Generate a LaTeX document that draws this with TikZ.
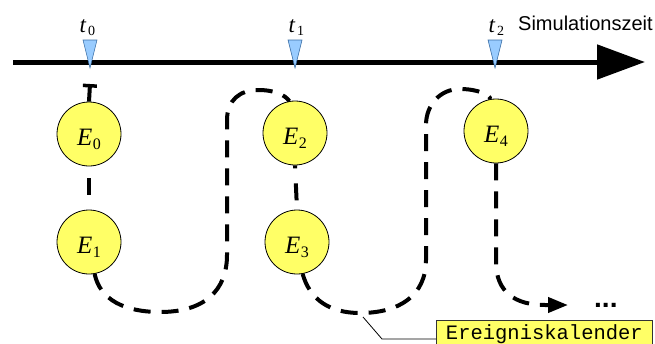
\documentclass[tikz,border=0pt]{standalone}
\usepackage{fontspec}
\newfontfamily\sansf{Liberation Sans}
\newfontfamily\monof{Liberation Mono}
\newfontfamily\seriff{Liberation Serif}
\usetikzlibrary{arrows.meta}
\definecolor{evyellow}{HTML}{FFFF66}
\definecolor{mblue}{HTML}{99CCFF}
\definecolor{mblueline}{HTML}{3A6EA5}
\newcommand\evlab[2]{{\fontsize{25}{25}\selectfont\seriff\itshape #1\kern0.5pt\raisebox{-4pt}{\upshape\fontsize{16}{16}\selectfont #2}}}
\newcommand\tlab[2]{{\fontsize{23}{23}\selectfont\seriff\itshape #1\kern2pt\raisebox{-3pt}{\upshape\fontsize{14}{14}\selectfont #2}}}
\begin{document}
\begin{tikzpicture}[x=1pt,y=-1pt,
  event/.style={circle, draw=black, line width=0.8pt, fill=evyellow,
    minimum size=64pt, inner sep=0pt, text height=22pt, text depth=0pt},
  flow/.style={line width=4pt, dash pattern=on 17pt off 11pt},
  marker/.style={fill=mblue, draw=mblueline, line width=0.6pt},
  tlabel/.style={anchor=base west, inner sep=0pt},
  calbox/.style={draw=black!80, line width=0.8pt, fill=evyellow, anchor=north west,
    minimum width=216pt, minimum height=28pt, inner sep=0pt,
    font=\monof\fontsize{20.5}{20.5}\selectfont, text height=14pt, text depth=4pt},
]
\useasboundingbox (0,0) rectangle (655,343);

% time axis
\coordinate (axs) at (13,62);
\coordinate (axe) at (645,62);
\draw[line width=5pt, -{Triangle[length=48pt,width=34pt]}] (axs) -- (axe);

% markers
\draw[marker] (83,40) -- (97,40) -- (90,68) -- cycle;
\draw[marker] (288,40) -- (302,40) -- (295,68) -- cycle;
\draw[marker] (488,40) -- (502,40) -- (495,68) -- cycle;

\node[tlabel] (t0) at (79.5,32) {\tlab{t}{0}};
\node[tlabel] (t1) at (288.5,32) {\tlab{t}{1}};
\node[tlabel] (t2) at (488.5,32) {\tlab{t}{2}};
\node[anchor=base west, inner sep=0pt, font=\sansf\fontsize{20}{20}\selectfont] (sim) at (518,30) {Simulationszeit};

% events
\node[event] (E0) at (89,134) {\evlab{E}{0}};
\node[event] (E1) at (89,242) {\evlab{E}{1}};
\node[event] (E2) at (295,133) {\evlab{E}{2}};
\node[event] (E3) at (297,242) {\evlab{E}{3}};
\node[event] (E4) at (496,131) {\evlab{E}{4}};

% event calendar chain
\coordinate (T0) at (90,84);
\draw[line width=4pt, {Bar[width=14pt,line width=3.5pt]}-] (T0) -- (E0.north);
\draw[line width=4pt, dash pattern=on 0pt off 12pt on 17pt off 100pt] (E0.south) -- (E1.north);
\draw[flow] (E1.-80) .. controls (100,300) and (125,312) .. (160,312)
  .. controls (205,312) and (227,290) .. (227,255) -- (227,120)
  .. controls (227,100) and (240,90) .. (258,90)
  .. controls (275,90) and (285,95) .. (E2.100);
\draw[line width=4pt, dash pattern=on 3pt off 15pt on 17pt off 100pt] (E2.south) -- (E3.north);
\draw[flow] (E3.-80) .. controls (310,300) and (330,313) .. (360,313)
  .. controls (400,313) and (426,295) .. (426,260) -- (426,125)
  .. controls (426,105) and (440,89) .. (460,89)
  .. controls (478,89) and (490,95) .. (E4.100);
\coordinate (cont) at (568,305);
\draw[flow, -{Triangle[length=20pt,width=15pt]}] (E4.south) -- (496,262)
  .. controls (496,292) and (515,305) .. (545,305) -- (cont);
\node[anchor=base west, inner sep=0pt, font=\sansf\bfseries\fontsize{28}{28}\selectfont] (dots) at (594,307) {...};

% label
\node[calbox] (cal) at (436,320) {Ereigniskalender};
\coordinate (calpt) at (363,317);
\coordinate (bend) at (382,339);
\draw[line width=0.8pt] (calpt) -- (bend) -- (bend -| cal.west);
\end{tikzpicture}
\end{document}
